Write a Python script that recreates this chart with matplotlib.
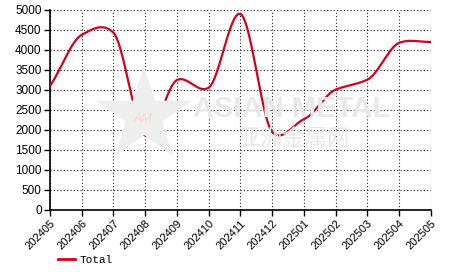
import numpy as np
import matplotlib
matplotlib.use('Agg')
import matplotlib.pyplot as plt
from matplotlib.lines import Line2D
from matplotlib.patches import Polygon

# ── data ─────────────────────────────────────────────
months = ["202405", "202406", "202407", "202408", "202409", "202410", "202411",
          "202412", "202501", "202502", "202503", "202504", "202505"]
total = [3100, 4380, 4430, 1860, 3250, 3060, 4900,
         1950, 2270, 3010, 3260, 4180, 4200]
y_ticks = [0, 500, 1000, 1500, 2000, 2500, 3000, 3500, 4000, 4500, 5000]

RED = '#d9001b'
WM = '#e8e8e8'


def smooth_line(x, y, n=40, k=0.32):
    # hermite spline, tangent k * (next - prev); ends use the segment slope
    x = np.asarray(x, float)
    y = np.asarray(y, float)
    m = np.empty_like(y)
    m[1:-1] = k * (y[2:] - y[:-2])
    m[0] = 0.9 * (y[1] - y[0])
    m[-1] = 0.9 * (y[-1] - y[-2])
    xs, ys = [], []
    t = np.linspace(0, 1, n)
    h00 = 2 * t**3 - 3 * t**2 + 1
    h10 = t**3 - 2 * t**2 + t
    h01 = -2 * t**3 + 3 * t**2
    h11 = t**3 - t**2
    for i in range(len(x) - 1):
        xs.append(x[i] + t * (x[i + 1] - x[i]))
        ys.append(h00 * y[i] + h10 * m[i] + h01 * y[i + 1] + h11 * m[i + 1])
    return np.concatenate(xs), np.concatenate(ys)


W, H = 466, 272
fig = plt.figure(figsize=(W / 100, H / 100), dpi=100)
ax = fig.add_axes([50 / W, (H - 210) / H, (431 - 50) / W, 200 / H])

# ── watermark (logo star + text) ────────────────────
cx, cy, R, r = 144, 116, 50, 19
ang = np.pi / 2 + np.arange(10) * np.pi / 5
rad = np.where(np.arange(10) % 2 == 0, R, r)
star = np.column_stack([(cx + rad * np.cos(ang)) / W, 1 - (cy - rad * np.sin(ang)) / H])
fig.patches.append(Polygon(star, closed=True, transform=fig.transFigure,
                           facecolor='#eeeeee', edgecolor='none', zorder=0))
fig.text(143 / W, 1 - 119 / H, "AM", fontsize=9, color='#f6d4d4', ha='center',
         va='center', zorder=0, family='Liberation Sans', style='italic')
fig.text(292 / W, 1 - 109 / H, "ASIAN METAL", fontsize=21, fontweight='bold',
         color=WM, ha='center', va='center', zorder=0, family='Liberation Sans')
fig.text(294 / W, 1 - 138 / H, "亚洲金属网", fontsize=16, color=WM,
         ha='center', va='center', zorder=0, family='Noto Sans CJK SC')

x = np.arange(len(months))
sx, sy = smooth_line(x, total)
ax.plot(sx, sy, color=RED, lw=1.6, zorder=3, solid_capstyle='round')

ax.set_xlim(0, len(months) - 1)
ax.set_ylim(0, 5000)
ax.set_xticks(x)
ax.set_xticklabels(months, rotation=45, ha='right', rotation_mode='anchor',
                   fontsize=8, family='Liberation Sans')
ax.set_yticks(y_ticks)
ax.set_yticklabels([str(v) for v in y_ticks], fontsize=8.5, family='Liberation Sans')
ax.grid(True, color='#222222', linestyle=(0, (1, 2)), linewidth=0.8)
ax.set_axisbelow(True)
ax.patch.set_alpha(0)

for s in ('top', 'right'):
    ax.spines[s].set_visible(False)
for s in ('left', 'bottom'):
    ax.spines[s].set_linewidth(1.2)
ax.tick_params(direction='out', length=4, width=1.0, pad=2)

handle = Line2D([0], [0], color=RED, lw=2)
fig.legend([handle], ["Total"], loc='center left', bbox_to_anchor=(48 / W, 1 - 260 / H),
           frameon=False, handlelength=1.5, handletextpad=0.4,
           prop={'family': 'Liberation Mono', 'size': 8})

fig.savefig("out.png", dpi=100)
